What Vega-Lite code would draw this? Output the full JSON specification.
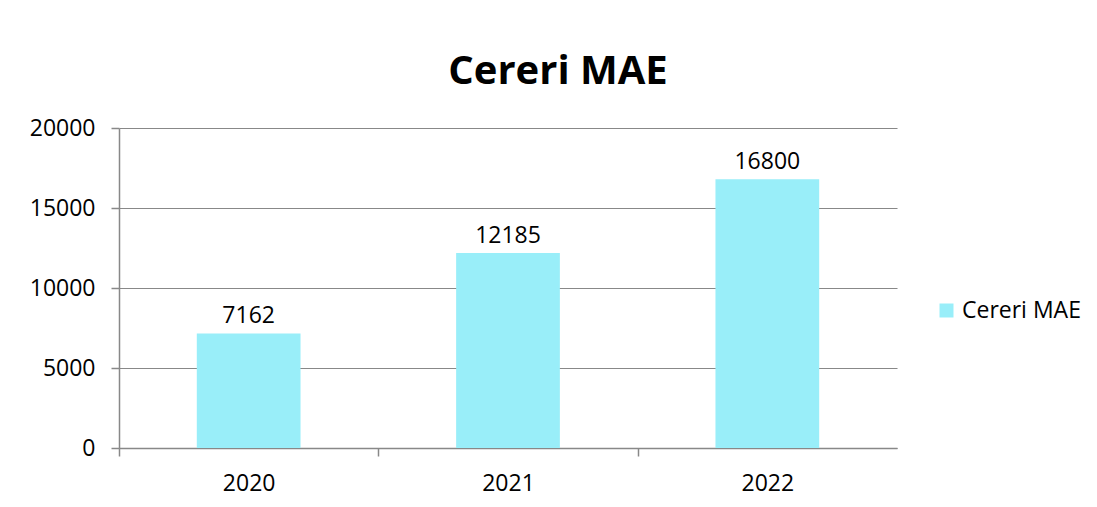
{
  "$schema": "https://vega.github.io/schema/vega-lite/v6.json",
  "autosize": {"type": "none"},
  "width": 778,
  "height": 320,
  "padding": {"left": 119, "top": 128, "right": 200, "bottom": 59},
  "background": "white",
  "config": {
    "view": {"stroke": null},
    "font": "Open Sans",
    "axis": {"labelFont": "Open Sans", "labelFontSize": 23, "labelColor": "#000000", "domainColor": "#888888", "tickColor": "#888888", "gridColor": "#888888", "tickSize": 8, "domainWidth": 1.5, "tickWidth": 1.5, "gridWidth": 1.2}
  },
  "title": {"text": "Cereri MAE", "font": "Open Sans", "fontSize": 40, "fontWeight": "bold", "color": "#000000", "anchor": "middle", "dx": 50, "offset": 25},
  "data": {"values": [
    {"year": "2020", "value": 7162, "series": "Cereri MAE"},
    {"year": "2021", "value": 12185, "series": "Cereri MAE"},
    {"year": "2022", "value": 16800, "series": "Cereri MAE"}
  ]},
  "encoding": {
    "x": {"field": "year", "type": "nominal", "scale": {"paddingInner": 0.6, "paddingOuter": 0.3},
      "axis": {"title": null, "labelAngle": 0, "tickOffset": -129.67, "labelOffset": 129.67, "labelPadding": 16, "grid": false}},
    "y": {"field": "value", "type": "quantitative", "scale": {"domain": [0, 20000], "nice": false},
      "axis": {"title": null, "values": [0, 5000, 10000, 15000, 20000], "labelPadding": 16, "grid": true, "format": "d"}}
  },
  "layer": [
    {"mark": {"type": "bar", "color": "#99EEF9"},
      "encoding": {"color": {"field": "series", "type": "nominal", "scale": {"range": ["#99EEF9"]},
        "legend": {"title": null, "orient": "none", "legendX": 816, "legendY": 171, "symbolType": "square", "symbolSize": 196, "symbolStrokeWidth": 0, "labelFont": "Open Sans", "labelFontSize": 23, "labelColor": "#000000", "labelOffset": 4, "padding": 0}}}},
    {"mark": {"type": "text", "fontSize": 23, "font": "Open Sans", "color": "#000000", "baseline": "middle", "dy": -17},
      "encoding": {"text": {"field": "value", "type": "quantitative", "format": "d"}}}
  ]
}
